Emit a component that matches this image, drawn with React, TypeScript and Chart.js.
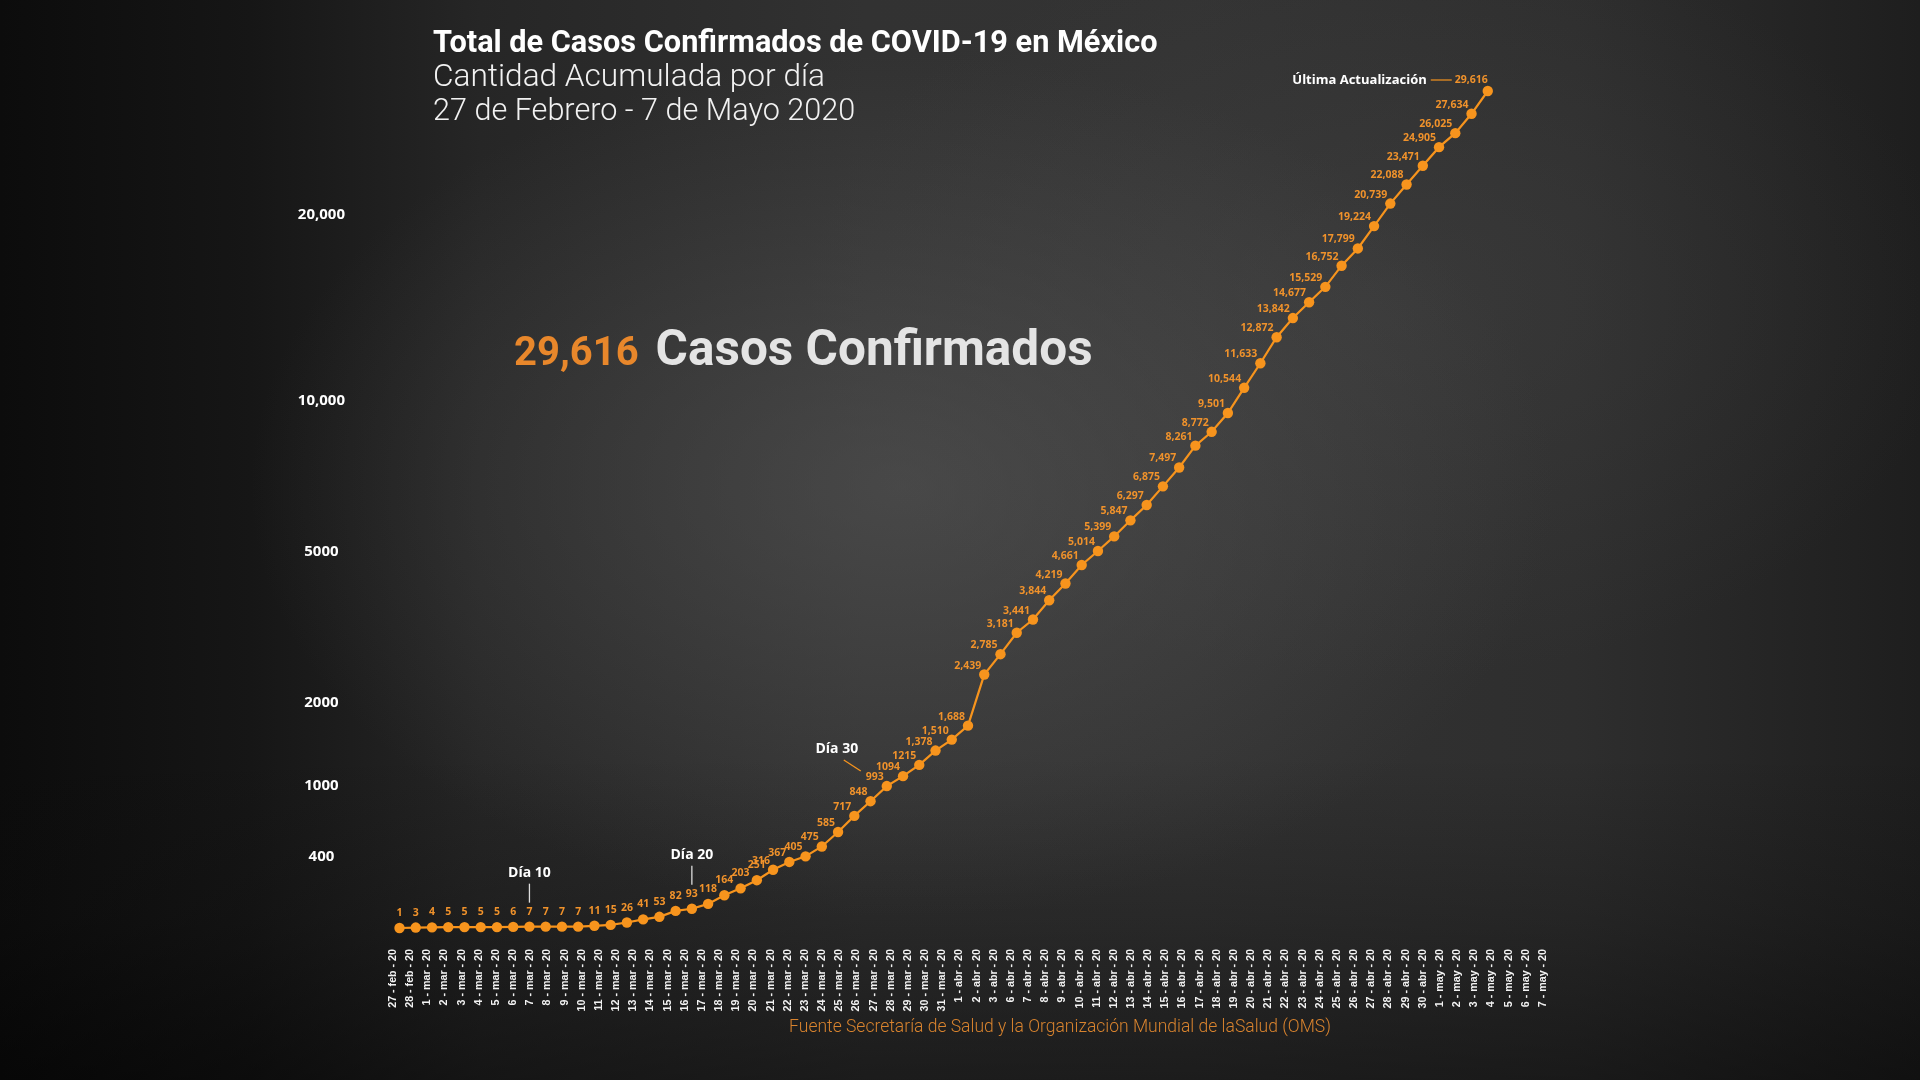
import React, { useEffect, useRef } from "react";
import { Chart, registerables, LinearScale } from "chart.js";

// ---------------- data ----------------
const dateLabels = [
  "27 - feb - 20", "28 - feb - 20",
  "1 - mar - 20", "2 - mar - 20", "3 - mar - 20", "4 - mar - 20", "5 - mar - 20",
  "6 - mar - 20", "7 - mar - 20", "8 - mar - 20", "9 - mar - 20", "10 - mar - 20",
  "11 - mar - 20", "12 - mar - 20", "13 - mar - 20", "14 - mar - 20", "15 - mar - 20",
  "16 - mar - 20", "17 - mar - 20", "18 - mar - 20", "19 - mar - 20", "20 - mar - 20",
  "21 - mar - 20", "22 - mar - 20", "23 - mar - 20", "24 - mar - 20", "25 - mar - 20",
  "26 - mar - 20", "27 - mar - 20", "28 - mar - 20", "29 - mar - 20", "30 - mar - 20",
  "31 - mar - 20",
  "1 - abr - 20", "2 - abr - 20", "3 - abr - 20", "6 - abr - 20", "7 - abr - 20",
  "8 - abr - 20", "9 - abr - 20", "10 - abr - 20", "11 - abr - 20", "12 - abr - 20",
  "13 - abr - 20", "14 - abr - 20", "15 - abr - 20", "16 - abr - 20", "17 - abr - 20",
  "18 - abr - 20", "19 - abr - 20", "20 - abr - 20", "21 - abr - 20", "22 - abr - 20",
  "23 - abr - 20", "24 - abr - 20", "25 - abr - 20", "26 - abr - 20", "27 - abr - 20",
  "28 - abr - 20", "29 - abr - 20", "30 - abr - 20",
  "1 - may - 20", "2 - may - 20", "3 - may - 20", "4 - may - 20", "5 - may - 20",
  "6 - may - 20", "7 - may - 20",
];

const confirmedCases = [
  1, 3, 4, 5, 5, 5, 5, 6, 7, 7, 7, 7, 11, 15, 26, 41, 53, 82, 93, 118,
  164, 203, 251, 316, 367, 405, 475, 585, 717, 848, 993, 1094, 1215, 1378, 1510, 1688,
  2439, 2785, 3181, 3441, 3844, 4219, 4661, 5014, 5399, 5847, 6297, 6875, 7497, 8261,
  8772, 9501, 10544, 11633, 12872, 13842, 14677, 15529, 16752, 17799, 19224, 20739,
  22088, 23471, 24905, 26025, 27634, 29616,
];

const yTickValues = [400, 1000, 2000, 5000, 10000, 20000];
const yTickLabels = ["400", "1000", "2000", "5000", "10,000", "20,000"];

const dayMarkerIndex = [8, 18, 30];
const dayMarkerText = ["Día 10", "Día 20", "Día 30"];

const lastUpdateText = "Última Actualización";

// ---------------- style ----------------
const ORANGE = "#f7941d";
const ORANGE_TEXT = "#f0922b";
const SCALE_EXPONENT = 0.27;
const SCALE_SHIFT = 500;

function tf(v: number) {
  return Math.pow(Math.max(v, 0) + SCALE_SHIFT, SCALE_EXPONENT);
}

class PowerScale extends LinearScale {
  static id = "power";
  static defaults = LinearScale.defaults;
  getPixelForValue(value: number) {
    const a = tf((this as any).min);
    const b = tf((this as any).max);
    return (this as any).getPixelForDecimal((tf(value) - a) / (b - a));
  }
  getValueForPixel(pixel: number) {
    const a = tf((this as any).min);
    const b = tf((this as any).max);
    const t = (this as any).getDecimalForPixel(pixel);
    return Math.pow(a + t * (b - a), 1 / SCALE_EXPONENT) - SCALE_SHIFT;
  }
}

Chart.register(...registerables, PowerScale as any);

function formatCount(v: number) {
  return v < 1300 ? String(v) : v.toLocaleString("en-US");
}

const labelPlugin = {
  id: "pointLabels",
  afterDatasetsDraw(chart: any) {
    const ctx = chart.ctx;
    const pts = chart.getDatasetMeta(0).data;
    ctx.save();
    ctx.textBaseline = "middle";
    const n = pts.length;
    pts.forEach((pt: any, i: number) => {
      const x = pt.x;
      const y = pt.y;
      const text = formatCount(confirmedCases[i]);
      ctx.font = "bold 10.5px 'Open Sans'";
      ctx.fillStyle = ORANGE_TEXT;
      if (i === n - 1) {
        ctx.textAlign = "right";
        ctx.fillText(text, x, y - 11);
        const w = ctx.measureText(text).width;
        ctx.strokeStyle = ORANGE;
        ctx.lineWidth = 1.2;
        ctx.beginPath();
        ctx.moveTo(x - w - 3, y - 11);
        ctx.lineTo(x - w - 24, y - 11);
        ctx.stroke();
        ctx.font = "bold 13px 'Open Sans'";
        ctx.fillStyle = "#ffffff";
        ctx.fillText(lastUpdateText, x - w - 28, y - 11);
      } else if (i <= 22) {
        ctx.textAlign = "center";
        ctx.fillText(text, x, y - 15);
      } else {
        ctx.textAlign = "right";
        ctx.fillText(text, x - 3, y - 9);
      }
    });

    dayMarkerIndex.forEach((idx, k) => {
      const pt = pts[idx];
      if (!pt) return;
      const x = pt.x;
      const y = pt.y;
      ctx.font = "bold 14px 'Open Sans'";
      ctx.fillStyle = "#ffffff";
      ctx.textAlign = "center";
      if (k < 2) {
        ctx.fillText(dayMarkerText[k], x, y - 54);
        ctx.strokeStyle = "#dddddd";
        ctx.lineWidth = 1.3;
        ctx.beginPath();
        ctx.moveTo(x, y - 43);
        ctx.lineTo(x, y - 24);
        ctx.stroke();
      } else {
        ctx.fillText(dayMarkerText[k], x - 50, y - 37);
        ctx.strokeStyle = ORANGE;
        ctx.lineWidth = 1.3;
        ctx.beginPath();
        ctx.moveTo(x - 43, y - 26);
        ctx.lineTo(x - 26, y - 15);
        ctx.stroke();
      }
    });
    ctx.restore();
  },
};

export default function App() {
  const canvasRef = useRef<HTMLCanvasElement | null>(null);

  useEffect(() => {
    const canvas = canvasRef.current;
    if (!canvas) return;
    const chart = new Chart(canvas, {
      type: "line",
      data: {
        labels: dateLabels,
        datasets: [
          {
            data: confirmedCases.map((v, i) => ({ x: i, y: v })),
            xAxisID: "x2",
            yAxisID: "y",
            borderColor: ORANGE,
            backgroundColor: ORANGE,
            borderWidth: 2.2,
            pointRadius: 5.2,
            pointHoverRadius: 5.2,
            pointBackgroundColor: ORANGE,
            pointBorderWidth: 0,
            tension: 0,
            fill: false,
            clip: false as any,
          } as any,
        ],
      },
      options: {
        animation: false,
        responsive: false,
        layout: { padding: { top: 91, right: 377, bottom: 0, left: 0 } },
        plugins: {
          legend: { display: false },
          tooltip: { enabled: false },
          title: { display: false },
        },
        scales: {
          x: {
            type: "category",
            position: "bottom",
            offset: false,
            grid: { display: false },
            border: { display: false },
            ticks: {
              autoSkip: false,
              maxRotation: 90,
              minRotation: 90,
              color: "#f2f2f2",
              padding: 13,
              font: { family: "'Liberation Sans', Arial, sans-serif", weight: "bold", size: 10.7 },
            },
            afterFit: (s: any) => {
              s.height = 152;
            },
          },
          x2: {
            type: "linear",
            display: false,
            min: -0.4,
            max: 70.4,
            offset: false,
          },
          y: {
            type: "power" as any,
            position: "left",
            min: 1,
            max: 29616,
            grid: { display: false },
            border: { display: false },
            ticks: {
              color: "#ffffff",
              crossAlign: "center",
              padding: 40,
              font: { family: "'Open Sans', sans-serif", weight: "bold", size: 15 },
              callback: (v: any) => {
                const k = yTickValues.indexOf(Number(v));
                return k >= 0 ? yTickLabels[k] : "";
              },
            },
            afterBuildTicks: (s: any) => {
              s.ticks = yTickValues.map((v) => ({ value: v }));
            },
            afterFit: (s: any) => {
              s.width = 393;
            },
          } as any,
        },
      } as any,
      plugins: [labelPlugin as any],
    });
    return () => chart.destroy();
  }, []);

  const bg = [
    "radial-gradient(ellipse 34% 40% at 47% 45%, rgba(90,90,90,0.55), rgba(90,90,90,0) 100%)",
    "radial-gradient(ellipse 30% 35% at 72% 28%, rgba(75,75,75,0.35), rgba(75,75,75,0) 100%)",
    "linear-gradient(to bottom, rgba(0,0,0,0) 70%, rgba(10,10,10,0.25) 85%, rgba(0,0,0,0.45) 100%)",
    "linear-gradient(to right, #0c0c0c 0%, #161616 13%, #262626 25%, #323232 45%, #333333 62%, #2e2e2e 82%, #1e1e1e 100%)",
  ].join(",");

  return (
    <div
      style={{
        position: "fixed",
        left: 0,
        top: 0,
        width: 1920,
        height: 1080,
        overflow: "hidden",
        background: bg,
        fontFamily: "Roboto, 'Open Sans', sans-serif",
      }}
    >
      <canvas ref={canvasRef} width={1920} height={1080} style={{ position: "absolute", left: 0, top: 0 }} />
      <div style={{ position: "absolute", left: 433, top: 24, color: "#ffffff", fontWeight: 700, fontSize: 30.7, lineHeight: "36px", whiteSpace: "nowrap" }}>
        Total de Casos Confirmados de COVID-19 en México
      </div>
      <div style={{ position: "absolute", left: 433, top: 58, color: "#f2f2f2", fontWeight: 300, fontSize: 31.6, lineHeight: "36px", whiteSpace: "nowrap" }}>
        Cantidad Acumulada por día
      </div>
      <div style={{ position: "absolute", left: 433, top: 92, color: "#f2f2f2", fontWeight: 300, fontSize: 30.6, lineHeight: "36px", whiteSpace: "nowrap" }}>
        27 de Febrero - 7 de Mayo 2020
      </div>
      <div style={{ position: "absolute", left: 514, top: 320, whiteSpace: "nowrap", lineHeight: "56px" }}>
        <span style={{ color: "#e8872b", fontWeight: 700, fontSize: 40 }}>29,616</span>
        <span style={{ color: "#e4e4e4", fontWeight: 700, fontSize: 49.5, marginLeft: 17 }}>Casos Confirmados</span>
      </div>
      <div style={{ position: "absolute", left: 0, width: 2120, top: 1014, textAlign: "center", color: "#d8832e", fontWeight: 300, fontSize: 17.5, lineHeight: "24px", whiteSpace: "nowrap" }}>
        Fuente Secretaría de Salud y la Organización Mundial de laSalud (OMS)
      </div>
    </div>
  );
}
